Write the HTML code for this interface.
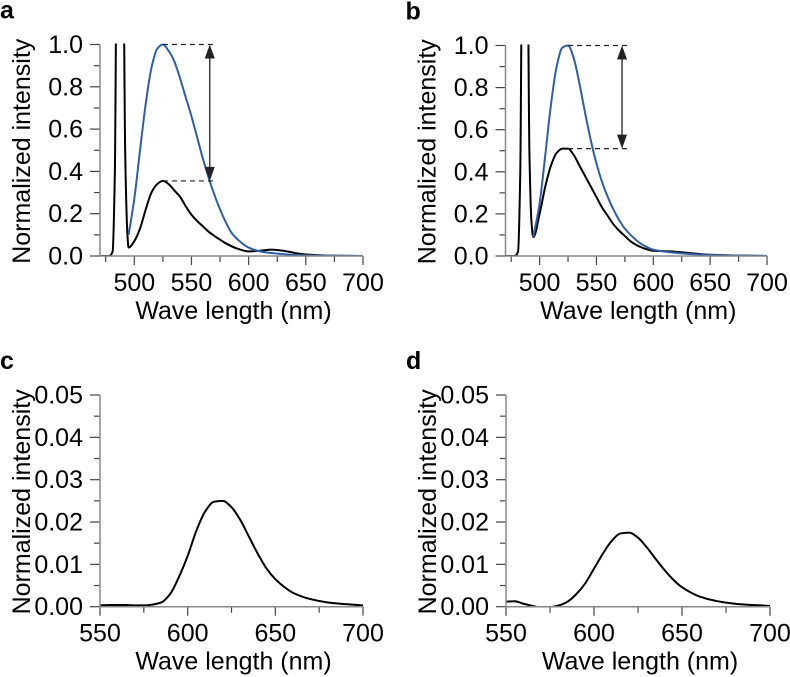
<!DOCTYPE html>
<html><head><meta charset="utf-8"><style>
html,body{margin:0;padding:0;background:#fff}
svg{display:block;font-family:"Liberation Sans",Arial,sans-serif}
</style></head><body>
<svg id="fig" width="790" height="677" viewBox="0 0 790 677"></svg>
<script>
// ---- data ----
const aBlueX=[495,500,505,510,515,520,525,530,535,540,545,550,555,560,565,570,575,580,585,590,600,610,620,630,650,700];
const aBlueY=[0.10,0.27,0.50,0.72,0.89,0.98,1.0,0.97,0.92,0.84,0.75,0.66,0.56,0.46,0.37,0.29,0.22,0.16,0.11,0.08,0.04,0.022,0.014,0.009,0.003,0];
const aBlackX=[470,478,481,483,484.5,490.5,492,494,495,500,505,510,515,520,525,530,535,540,545,550,555,560,565,570,575,580,590,600,610,620,630,640,650,670,700];
const aBlackY=[0,0,0.02,0.4,1.3,1.3,0.5,0.1,0.04,0.07,0.13,0.22,0.30,0.34,0.355,0.34,0.31,0.28,0.235,0.195,0.165,0.14,0.115,0.095,0.077,0.06,0.035,0.022,0.025,0.03,0.025,0.015,0.007,0.002,0];
const bBlueX=[494.5,500,505,510,515,520,525,530,535,540,545,550,555,560,565,570,575,580,590,600,620,650,700];
const bBlueY=[0.09,0.25,0.48,0.72,0.90,0.99,1.0,0.94,0.82,0.68,0.55,0.44,0.35,0.28,0.22,0.17,0.13,0.10,0.055,0.03,0.015,0.005,0];
const bBlackX=[470,478,481,483,484.5,489.5,491,493,494.5,500,505,510,515,520,525,530,535,540,545,550,555,560,565,570,575,580,590,600,615,630,650,700];
const bBlackY=[0,0,0.02,0.4,1.3,1.3,0.5,0.15,0.09,0.2,0.33,0.43,0.49,0.51,0.51,0.48,0.43,0.38,0.33,0.28,0.23,0.19,0.15,0.12,0.095,0.07,0.04,0.025,0.022,0.015,0.006,0];
const cX=[550,555,560,565,570,575,580,585,590,595,600,605,610,615,620,625,630,635,640,645,650,655,660,670,680,690,700];
const cY=[0.0003,0.0004,0.0004,0.0004,0.0003,0.0003,0.0005,0.001,0.003,0.007,0.012,0.018,0.0225,0.0248,0.025,0.0235,0.0205,0.0165,0.0125,0.009,0.0065,0.0047,0.0033,0.0018,0.001,0.0006,0.0003];
const dX=[550,555,560,565,570,575,580,585,590,595,600,605,610,615,620,625,630,635,640,645,650,660,670,680,690,700];
const dY=[0.0012,0.0013,0.0007,0.0002,-0.0002,-0.0001,0.0003,0.0012,0.003,0.0055,0.009,0.0125,0.0155,0.0173,0.0175,0.0163,0.014,0.0113,0.0087,0.0064,0.0046,0.0024,0.0013,0.0007,0.0004,0.0002];
const topXTicks=[475,500,525,550,575,600,625,650,675,700];
const topXLabels=["500","550","600","650","700"];
const topYLabels=["0.0","0.2","0.4","0.6","0.8","1.0"];
const botXTicks=[550,575,600,625,650,675,700];
const botXLabels=["550","600","650","700"];
const botYLabels=["0.00","0.01","0.02","0.03","0.04","0.05"];
const aRatio=[1.0,0.355];
const bRatio=[1.0,0.51];

const NS="http://www.w3.org/2000/svg";
const svg=document.getElementById('fig');
function mk(tag,attrs,parent){const e=document.createElementNS(NS,tag);for(const k in attrs)e.setAttribute(k,attrs[k]);(parent||svg).appendChild(e);return e;}

function monoPath(px,py){
  const n=px.length;if(n<2)return '';
  const dx=[],m=[];
  for(let i=0;i<n-1;i++){dx.push(px[i+1]-px[i]);m.push((py[i+1]-py[i])/dx[i]);}
  const t=new Array(n);
  t[0]=m[0];t[n-1]=m[n-2];
  for(let i=1;i<n-1;i++){
    if(m[i-1]*m[i]<=0)t[i]=0;
    else{const w1=2*dx[i]+dx[i-1],w2=dx[i]+2*dx[i-1];t[i]=(w1+w2)/(w1/m[i-1]+w2/m[i]);}
  }
  let d='M'+px[0].toFixed(2)+' '+py[0].toFixed(2);
  for(let i=0;i<n-1;i++){
    const h=dx[i]/3;
    d+=` C${(px[i]+h).toFixed(2)} ${(py[i]+t[i]*h).toFixed(2)} ${(px[i+1]-h).toFixed(2)} ${(py[i+1]-t[i+1]*h).toFixed(2)} ${px[i+1].toFixed(2)} ${py[i+1].toFixed(2)}`;
  }
  return d;
}

function panel(p){
  const g=mk('g',{});
  
  
  const x0=p.left,x1=p.right,yb=p.bottom,yt=p.top;
  const sx=v=>x0+(v-p.xmin)/(p.xmax-p.xmin)*(x1-x0);
  const sy=v=>yb-(v-p.ymin)/(p.ymax-p.ymin)*(yb-yt);
  const lab=mk('text',{x:p.left-100,y:p.top-26,'font-size':25,'font-weight':'bold',fill:'#000'},g);
  lab.textContent=p.id;
  
  
  const cp=mk('clipPath',{id:'clip'+p.id},g);
  mk('rect',{x:x0,y:yt-1,width:x1-x0+2,height:yb-yt+1},cp);
  const nMinor=Math.round((p.ymax-p.ymin)/p.yminor);
  for(let i=0;i<=nMinor;i++){
    const v=p.ymin+i*p.yminor,y=sy(v),maj=i%2===0;
    const t=mk('line',{x1:x0-(maj?10:6),x2:x0,y1:y,y2:y,stroke:'#444','stroke-width':1.2},g);
    
    
  }
  p.yLabels.forEach((s,i)=>{
    const t=mk('text',{x:x0-17,y:sy(p.ymin+i*2*p.yminor)+8.5,'font-size':25,'text-anchor':'end',fill:'#000'},g);
    t.textContent=s;
    
    
  });
  p.xTicks.forEach(v=>{
    const x=sx(v),maj=p.xLabels.indexOf(String(v))>=0;
    const t=mk('line',{x1:x,x2:x,y1:yb,y2:yb+(maj?9:6),stroke:'#444','stroke-width':1.2},g);
    
    
  });
  p.xLabels.forEach(s=>{
    const t=mk('text',{x:sx(+s),y:yb+35,'font-size':25,'text-anchor':'middle',fill:'#000'},g);
    t.textContent=s;
    
    
  });
  const xt=mk('text',{x:(x0+x1)/2+2,y:yb+63,'font-size':25,'text-anchor':'middle',fill:'#000'},g);
  xt.textContent='Wave length (nm)';
  
  
  const ycx=x0-70,ycy=(yt+yb)/2+1;
  const yti=mk('text',{x:ycx,y:ycy,'font-size':25,'text-anchor':'middle',fill:'#000',transform:`rotate(-90 ${ycx} ${ycy})`},g);
  yti.textContent='Normalized intensity';
  
  
  p.series.forEach(s=>{
    const d=monoPath(s.x.map(sx),s.y.map(sy));
    const path=mk('path',{d:d,fill:'none',stroke:s.color,'stroke-width':2,'stroke-linejoin':'round','clip-path':`url(#clip${p.id})`},g);
    
    
  });
  const ax=mk('path',{d:`M${x0} ${yt} L${x0} ${yb} L${x1} ${yb}`,fill:'none',stroke:'#888','stroke-width':1.5},g);
  
  
  if(p.ratio){
    const xp=sx(p.peakX),xe=sx(p.dashEnd),xa=sx(p.arrowX);
    p.ratio.forEach(r=>{
      const l=mk('line',{x1:xp,x2:xe,y1:sy(r),y2:sy(r),stroke:'#222','stroke-width':1.2,'stroke-dasharray':'5,4'},g);
      
      
    });
    const ya=sy(p.ratio[0]),yb2=sy(p.ratio[1]);
    const al=mk('line',{x1:xa,x2:xa,y1:ya+8,y2:yb2-8,stroke:'#222','stroke-width':1.3},g);
    
    
    const h1=mk('polygon',{points:`${xa},${ya} ${xa-5},${ya+14} ${xa+5},${ya+14}`,fill:'#222'},g);
    
    
    const h2=mk('polygon',{points:`${xa},${yb2} ${xa-5},${yb2-14} ${xa+5},${yb2-14}`,fill:'#222'},g);
    
    
  }
}
const BLUE='#2f5ea8';
panel({id:'a',left:100,right:363,top:44.5,bottom:256,xmin:470,xmax:700,ymin:0,ymax:1,yminor:0.1,
  xTicks:topXTicks,xLabels:topXLabels,yLabels:topYLabels,ratio:aRatio,peakX:525,dashEnd:572,arrowX:566,
  series:[{x:aBlackX,y:aBlackY,color:'#000',name:'black-spectrum-a'},{x:aBlueX,y:aBlueY,color:BLUE,name:'blue-spectrum-a'}]});
panel({id:'b',left:505.5,right:767,top:45.5,bottom:256,xmin:470,xmax:700,ymin:0,ymax:1,yminor:0.1,
  xTicks:topXTicks,xLabels:topXLabels,yLabels:topYLabels,ratio:bRatio,peakX:525,dashEnd:578,arrowX:572.5,
  series:[{x:bBlackX,y:bBlackY,color:'#000',name:'black-spectrum-b'},{x:bBlueX,y:bBlueY,color:BLUE,name:'blue-spectrum-b'}]});
panel({id:'c',left:100,right:363,top:395,bottom:606.7,xmin:550,xmax:700,ymin:0,ymax:0.05,yminor:0.005,
  xTicks:botXTicks,xLabels:botXLabels,yLabels:botYLabels,
  series:[{x:cX,y:cY,color:'#000',name:'red-emission-c'}]});
panel({id:'d',left:506,right:770,top:395,bottom:606.7,xmin:550,xmax:700,ymin:0,ymax:0.05,yminor:0.005,
  xTicks:botXTicks,xLabels:botXLabels,yLabels:botYLabels,
  series:[{x:dX,y:dY,color:'#000',name:'red-emission-d'}]});
</script>
</body></html>
